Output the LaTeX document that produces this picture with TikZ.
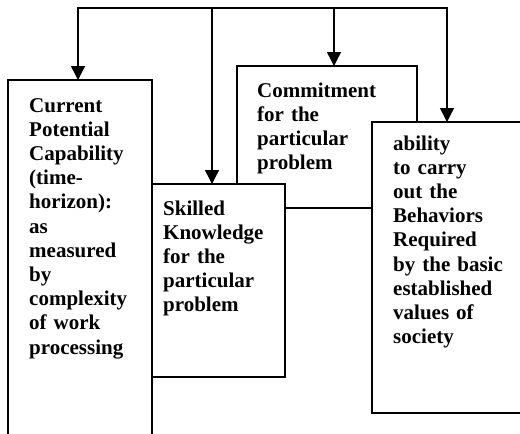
\documentclass[tikz,border=0pt]{standalone}
\usepackage{fontspec}
\setmainfont{Liberation Serif}
\usetikzlibrary{arrows.meta}

\tikzset{
  box/.style={draw, line width=1.8pt, fill=white, inner sep=0pt, outer sep=0pt, anchor=north west},
  words/.style={anchor=base west, align=left, inner sep=0pt, text width=140pt,
    font=\fontsize{21}{24.2}\selectfont\bfseries},
  tip/.tip={Triangle[length=14pt,width=14pt]},
  feed/.style={line width=1.4pt, line join=miter, -tip}
}

\begin{document}
\begin{tikzpicture}[x=1pt,y=-1pt]

  \clip (0,0) rectangle (520,434);

  % boxes, back to front
  \node[box, minimum width=180pt, minimum height=142pt] (commit) at (237,66) {};
  \node[box, minimum width=133pt, minimum height=193pt] (skill) at (152,184) {};
  \node[box, minimum width=170pt, minimum height=291pt] (ability) at (372,122) {};
  \node[box, minimum width=144pt, minimum height=380pt] (current) at (8,80) {};

  \node[words] (currenttext) at (29,112) {Current\\Potential\\Capability\\(time-\\horizon):\\as\\measured\\by\\complexity\\of work\\processing};
  \node[words] (skilltext) at (163,215) {Skilled\\Knowledge\\for the\\particular\\problem};
  \node[words] (committext) at (257,97) {Commitment\\for the\\particular\\problem};
  \node[words] (abilitytext) at (393,150) {ability\\to carry\\out the\\Behaviors\\Required\\by the basic\\established\\values of\\society};

  % feedback line across the top
  \coordinate (busleft) at (78,8);
  \coordinate (busright) at (447,8);
  \draw[feed, tip-tip] (current.north -| busleft) -- (busleft) -- (busright) -- (busright |- ability.north);
  \foreach \x/\b in {212/skill, 334/commit} {
    \coordinate (tap\b) at (\x,8);
    \draw[feed] (tap\b) -- (tap\b |- \b.north);
  }

\end{tikzpicture}
\end{document}
